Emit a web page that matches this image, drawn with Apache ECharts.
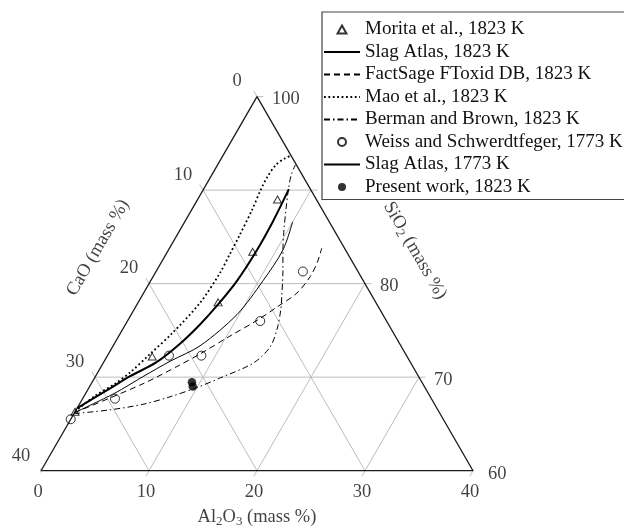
<!DOCTYPE html>
<html>
<head>
<meta charset="utf-8">
<script src="https://cdn.jsdelivr.net/npm/echarts@6/dist/echarts.min.js"></script>
<style>
  html, body { margin: 0; padding: 0; background: #fff; }
  #chart { width: 624px; height: 526px; }
</style>
</head>
<body>
<div id="chart"></div>
<script>
// mass % values, SiO2 = 100 - Al2O3 - CaO
const moritaAl2O3 = [0, 4.2, 7.4, 7.9, 7.4];
const moritaCaO = [33.7, 23.6, 14.6, 8.7, 3.6];

const weissAl2O3 = [0, 3.0, 5.7, 8.7, 12.3, 13.6];
const weissCaO = [34.5, 29.3, 22.0, 19.0, 11.7, 5.1];

const presentAl2O3 = [9.25, 9.55];
const presentCaO = [21.3, 21.45];

const atlas1823Al2O3 = [0, 2.0, 3.2, 4.9, 6.1, 6.9, 7.5, 8.0, 8.2, 8.15, 7.9];
const atlas1823CaO = [33.3, 29.2, 26.7, 23.5, 20.3, 17.5, 14.75, 11.7, 8.4, 5.2, 2.0];

const factsageAl2O3 = [0, 4.8, 7.2, 8.5, 10.3, 11.9, 13.1, 14.2, 14.55, 14.45, 14.1];
const factsageCaO = [33.8, 25.9, 21.5, 19.0, 15.3, 12.1, 9.4, 6.8, 4.7, 3.3, 2.1];

const maoAl2O3 = [0, 1.0, 2.2, 3.0, 3.85, 4.8, 5.75, 6.0, 5.9, 5.8, 5.6, 5.35, 5.25, 5.4, 5.9, 6.3];
const maoCaO = [33.7, 31.0, 28.5, 26.5, 23.7, 20.5, 16.3, 12.9, 10.9, 9.0, 6.5, 4.8, 3.4, 1.9, 0.7, 0];

const bermanAl2O3 = [0, 3.1, 5.9, 8.0, 10.0, 11.6, 13.9, 14.6, 14.3, 13.6, 12.9, 11.7, 10.6, 9.6, 8.75, 7.9, 7.35, 7.2];
const bermanCaO = [33.9, 30.4, 27.0, 24.1, 21.1, 18.5, 14.6, 12.2, 10.6, 9.2, 8.3, 6.9, 5.8, 4.6, 3.4, 2.1, 1.0, 0.1];

const atlas1773Al2O3 = [0, 2.7, 4.4, 6.1, 8.05, 9.8, 10.4, 10.6, 10.0];
const atlas1773CaO = [33.8, 29.0, 25.55, 22.2, 18.6, 13.5, 9.3, 5.8, 3.4];

// tick labels
const caoTicks = [0, 10, 20, 30, 40];
const sio2Ticks = [60, 70, 80, 90, 100];
const al2o3Ticks = [0, 10, 20, 30, 40];

const FONT = 'Liberation Serif';
const H = Math.sqrt(3) / 2;
const T = 0.6; // tick length

// ternary (Al2O3, CaO) -> cartesian, SiO2 from 60 to 100
function tern(al, cao) {
  const si = 40 - al - cao;
  return [al + si / 2, si * H];
}
function pts(alArr, caArr) {
  return alArr.map((a, i) => tern(a, caArr[i]));
}

const series = [];

// grid lines + ticks
const gridLines = [];
sio2Ticks.forEach(v => {
  const s = v - 60;
  if (s > 0 && s < 40) gridLines.push([tern(0, 40 - s), tern(40 - s + T, -T)]);
  else gridLines.push([tern(40 - s, 0), tern(40 - s + T, -T)]);
});
caoTicks.forEach(c => {
  if (c > 0 && c < 40) gridLines.push([tern(-T, c), tern(40 - c, c)]);
  else gridLines.push([tern(-T, c), tern(0, c)]);
});
al2o3Ticks.forEach(a => {
  if (a > 0 && a < 40) gridLines.push([tern(a, 40 - a + T), tern(a, 0)]);
  else gridLines.push([tern(a, 40 - a + T), tern(a, a === 0 ? 40 : 0)]);
});
gridLines.forEach(seg => {
  series.push({
    type: 'line', data: seg, symbol: 'none', silent: true, clip: false, z: 1,
    lineStyle: { color: '#bdbdbd', width: 1 }
  });
});

// triangle border
series.push({
  type: 'line', data: [tern(0, 40), tern(40, 0), tern(0, 0), tern(0, 40)],
  symbol: 'none', silent: true, clip: false, z: 2,
  lineStyle: { color: '#1a1a1a', width: 1.3 }
});

function curve(name, al, ca, lineStyle) {
  return {
    name: name, type: 'line', data: pts(al, ca), symbol: 'none', showSymbol: false,
    smooth: 0.3, clip: false, z: 3, silent: true,
    itemStyle: { color: '#000' },
    lineStyle: Object.assign({ color: '#000' }, lineStyle)
  };
}
function marks(name, al, ca, symbol, size, filled) {
  return {
    name: name, type: 'scatter', data: pts(al, ca), symbol: symbol, symbolSize: size,
    clip: false, z: 4, silent: true,
    itemStyle: {
      color: filled ? '#000' : 'rgba(255,255,255,0)',
      borderColor: '#000', borderWidth: filled ? 0 : 1
    }
  };
}

series.push(marks('Morita et al., 1823 K', moritaAl2O3, moritaCaO, 'triangle', [8, 7], false));
series.push(curve('Slag Atlas, 1823 K', atlas1823Al2O3, atlas1823CaO, { width: 2 }));
series.push(curve('FactSage FToxid DB, 1823 K', factsageAl2O3, factsageCaO, { width: 1, type: [6, 4] }));
series.push(curve('Mao et al., 1823 K', maoAl2O3, maoCaO, { width: 1.8, type: [1.8, 2.6] }));
series.push(curve('Berman and Brown, 1823 K', bermanAl2O3, bermanCaO, { width: 1, type: [6, 3, 1.5, 3] }));
series.push(marks('Weiss and Schwerdtfeger, 1773 K', weissAl2O3, weissCaO, 'circle', 9, false));
series.push(curve('Slag Atlas, 1773 K', atlas1773Al2O3, atlas1773CaO, { width: 1 }));
series.push(marks('Present work, 1823 K', presentAl2O3, presentCaO, 'circle', 8.5, true));

// tick labels
function labelSeries(data, labelOpt) {
  return {
    type: 'scatter', data: data, symbolSize: 0, silent: true, clip: false, z: 5,
    label: Object.assign({
      show: true, formatter: '{b}', color: '#111', fontFamily: FONT, fontSize: 18.5,
      align: 'center', verticalAlign: 'middle'
    }, labelOpt)
  };
}
series.push(labelSeries(caoTicks.map(c => ({ name: String(c), value: tern(0, c) })), { position: [-20, -15] }));
series.push(labelSeries(sio2Ticks.map(v => ({ name: String(v), value: tern(100 - v, 0) })), { position: [15, 3], align: 'left' }));
series.push(labelSeries(al2o3Ticks.map(a => ({ name: String(a), value: tern(a, 40 - a) })), { position: [-3, 21] }));

// axis titles
const richTitle = {
  n: { fontFamily: FONT, fontSize: 18.5, color: '#111' },
  s: { fontFamily: FONT, fontSize: 13, color: '#111', padding: [9, 0, 0, 0] }
};
series.push(labelSeries([{ name: 'Al2O3', value: tern(20, 20) }], {
  position: [0, 46], formatter: '{n|Al}{s|2}{n|O}{s|3}{n| (mass %)}', rich: richTitle
}));
series.push(labelSeries([{ name: 'CaO', value: tern(0, 20) }], {
  position: [-51, -36], rotate: 60, formatter: '{n|CaO (mass %)}', rich: richTitle
}));
series.push(labelSeries([{ name: 'SiO2', value: tern(20, 0) }], {
  position: [50, -33], rotate: -60, formatter: '{n|SiO}{s|2}{n| (mass %)}', rich: richTitle
}));

const lineNames = ['Slag Atlas, 1823 K', 'FactSage FToxid DB, 1823 K', 'Mao et al., 1823 K',
  'Berman and Brown, 1823 K', 'Slag Atlas, 1773 K'];
const legendNames = [
  'Morita et al., 1823 K', 'Slag Atlas, 1823 K', 'FactSage FToxid DB, 1823 K',
  'Mao et al., 1823 K', 'Berman and Brown, 1823 K', 'Weiss and Schwerdtfeger, 1773 K',
  'Slag Atlas, 1773 K', 'Present work, 1823 K'
];
const legendData = legendNames.map(n => {
  if (lineNames.includes(n)) {
    return { name: n, itemStyle: { color: 'rgba(0,0,0,0)', borderWidth: 0, opacity: 0 } };
  }
  if (n.indexOf('Morita') === 0) {
    return { name: n, icon: 'path://M5,0L10,9L0,9Z' };
  }
  return { name: n };
});

const chart = echarts.init(document.getElementById('chart'), null, { renderer: 'canvas' });
chart.setOption({
  animation: false,
  backgroundColor: '#fff',
  grid: { left: 41, top: 38.7, width: 432, height: 432 },
  xAxis: { type: 'value', min: 0, max: 40, show: false },
  yAxis: { type: 'value', min: 0, max: 40, show: false },
  legend: {
    data: legendData, orient: 'vertical', left: 322, top: 12, z: 10,
    selectedMode: false, backgroundColor: '#fff', borderColor: '#444', borderWidth: 1.2,
    padding: [8, 24, 3, 1], itemGap: 3.5, itemWidth: 36, itemHeight: 8,
    symbolKeepAspect: true,
    textStyle: { fontFamily: FONT, fontSize: 19, color: '#111' }
  },
  series: series
});
</script>
</body>
</html>
